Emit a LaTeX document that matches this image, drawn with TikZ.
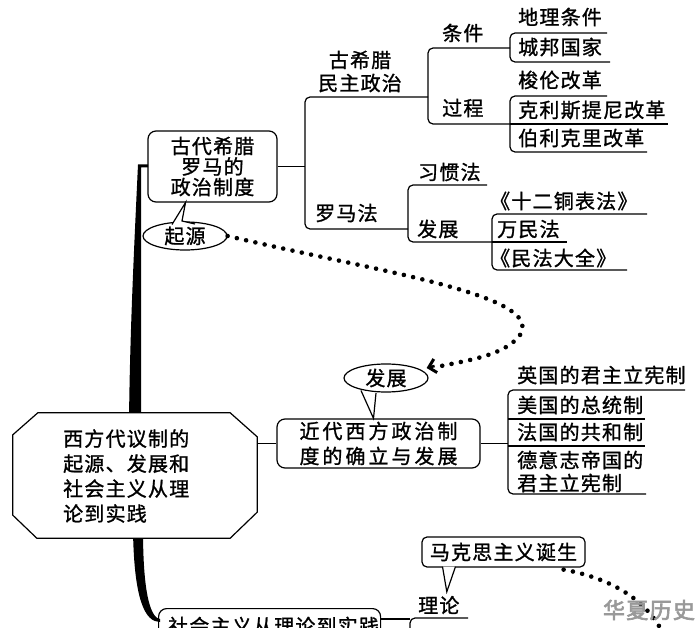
\documentclass[tikz,border=0pt]{standalone}
\usepackage{fontspec}
\setmainfont{Noto Sans CJK SC}[LetterSpace=6, FakeBold=1.2]
\usetikzlibrary{arrows.meta,calc,shapes.geometric}

\begin{document}
\begin{tikzpicture}[x=1pt, y=-1pt,
  font=\fontsize{20}{24}\selectfont,
  box/.style={draw, rounded corners=8pt, line width=1.2pt, inner sep=0pt},
  lbl/.style={anchor=west, inner sep=0pt, align=left},
  ln/.style={line width=1.2pt, rounded corners=5pt},
  bubble/.style={draw, ellipse, line width=1.2pt, fill=white, inner sep=0pt,
    minimum width=84pt, minimum height=28pt},
  tail/.style={line width=1.2pt, fill=white},
  dots/.style={line width=4.6pt, dash pattern=on 0pt off 9.5pt, line cap=round}
]
\useasboundingbox (0,0) rectangle (696,628);
\clip (0,0) rectangle (696,628);

% spine
\fill (148,164.5) -- (138,164.5) .. controls (134,250) and (130,330) .. (129,420)
  -- (141,420) -- (141,167.5) -- (148,167.5) -- cycle;
\fill (133,530) .. controls (134,600) and (145,622) .. (160,622)
  -- (160,619) .. controls (152,618) and (143,600) .. (143,530) -- cycle;

% centre octagon
\node[minimum width=244pt, minimum height=125pt, inner sep=0pt] (main) at (135,475.5) {};
\draw[line width=1.2pt, fill=white] ([xshift=25pt]main.north west) -- ([xshift=-27pt]main.north east)
  -- ([yshift=-24pt]main.north east) -- ([yshift=26pt]main.south east)
  -- ([xshift=-27pt]main.south east) -- ([xshift=24pt]main.south west)
  -- ([yshift=23pt]main.south west) -- ([yshift=-22pt]main.north west) -- cycle;
\node[lbl, font=\fontsize{20}{25}\selectfont] (maint) at (63,476) {西方代议制的\\起源、发展和\\社会主义从理\\论到实践};

% ancient Greece and Rome
\node[box, minimum width=129pt, minimum height=71pt, align=center,
  font=\fontsize{20}{20.5}\selectfont] (gr) at (212.5,166.5) {古代希腊\\罗马的\\政治制度};
\draw[ln] (gr.east) -- (305,166.5);
\draw[ln] (428,97) -- (305,97) -- (305,229) -- (408,229);
\node[align=center, inner sep=0pt, font=\fontsize{20}{23}\selectfont] (gxl) at (360,71.5) {古希腊\\民主政治};
\node[lbl] (lmf) at (315,213) {罗马法};

\draw[ln] (510,48) -- (428,48) -- (428,124) -- (510,124);
\node[lbl] (tj) at (442,33) {条件};
\node[lbl] (gc) at (442,108) {过程};
\draw[ln] (607,33) -- (510,33) -- (510,62) -- (610,62);
\node[lbl] (dl) at (518,17) {地理条件};
\node[lbl] (cb) at (518,47) {城邦国家};
\draw[ln] (607,96) -- (510,96) -- (510,152) -- (647,152);
\draw[ln] (510,124) -- (668,124);
\node[lbl] (sl) at (518,80) {梭伦改革};
\node[lbl] (kl) at (518,110) {克利斯提尼改革};
\node[lbl] (bl) at (518,138) {伯利克里改革};

\draw[ln] (487,185) -- (408,185) -- (408,242) -- (492,242);
\node[lbl] (xgf) at (418,172) {习惯法};
\node[lbl] (fz) at (417,229) {发展};
\draw[ln] (647,214) -- (492,214) -- (492,270) -- (627,270);
\draw[ln] (492,242) -- (567,242);
\node[lbl] (sre) at (490,201) {《十二铜表法》};
\node[lbl] (wmf) at (497,229) {万民法};
\node[lbl] (mfdq) at (490,258) {《民法大全》};

% modern western politics
\node[box, minimum width=203pt, minimum height=49pt, align=left,
  font=\fontsize{20}{25}\selectfont\addfontfeatures{LetterSpace=15}] (mod) at (378.5,443.5) {近代西方政治制\\度的确立与发展};
\draw[ln] (main.east |- mod.west) -- (mod.west);
\draw[ln] (mod.east) -- (508,443.5);
\draw[ln] (685,390) -- (508,390) -- (508,494) -- (646,494);
\draw[ln] (508,419) -- (645,419);
\draw[ln] (508,446) -- (645,446);
\node[lbl] (yg) at (517,375) {英国的君主立宪制};
\node[lbl] (mg) at (517,405) {美国的总统制};
\node[lbl] (fg) at (517,432) {法国的共和制};
\node[lbl, font=\fontsize{20}{23}\selectfont] (dy) at (517,471.5) {德意志帝国的\\君主立宪制};

% socialism
\node[box, anchor=north west, minimum width=222pt, minimum height=40pt] (sh) at (158,608) {};
\node[lbl] (sht) at (168,626) {社会主义从理论到实践};
\draw[ln] ($(sh.north east)+(0,11)$) -- (410,619);
\draw[ln] (468,618) -- (410,618) -- (410,640);
\node[lbl] (ll) at (418,605) {理论};

% callouts
\node[bubble] (qy) at (185,236) {起源};
\draw[tail] (172,224.5) -- ($(gr.south)+(-27,0)$) -- (182,221) -- (195,224);
\node[bubble] (fzb) at (386,378) {发展};
\draw[tail] (361,390.5) -- ($(mod.north)+(-5,0)$) -- (376,393);
\node[box, rounded corners=5pt, minimum width=163pt, minimum height=30pt, fill=white] (mks) at (503.5,552) {马克思主义诞生};
\draw[tail] ($(mks.south)+(-61,-1)$) -- ($(ll.north)+(8,-4)$) -- ($(mks.south)+(-48,-1)$);

% dotted links
\coordinate (tip) at ($(fzb.east)+(-2,-10)$);
\draw[dots] (qy.east) .. controls (380,272) and (545,295) .. (520,335)
  .. controls (505,355) and (470,360) .. (441,366);
\draw[line width=2.5pt, -{Straight Barb[length=7pt, width=14pt, line width=3pt]}]
  ($(tip)+(8,-2)$) -- (tip);
\draw[dots] ($(mks.south east)+(-22,2)$) .. controls (610,578) and (650,600) .. (666,640);

% watermark
\node[text=black!40, font=\fontsize{22}{24}\selectfont\addfontfeatures{FakeBold=3}] (wm) at (649,610) {华夏历史};
\end{tikzpicture}
\end{document}
